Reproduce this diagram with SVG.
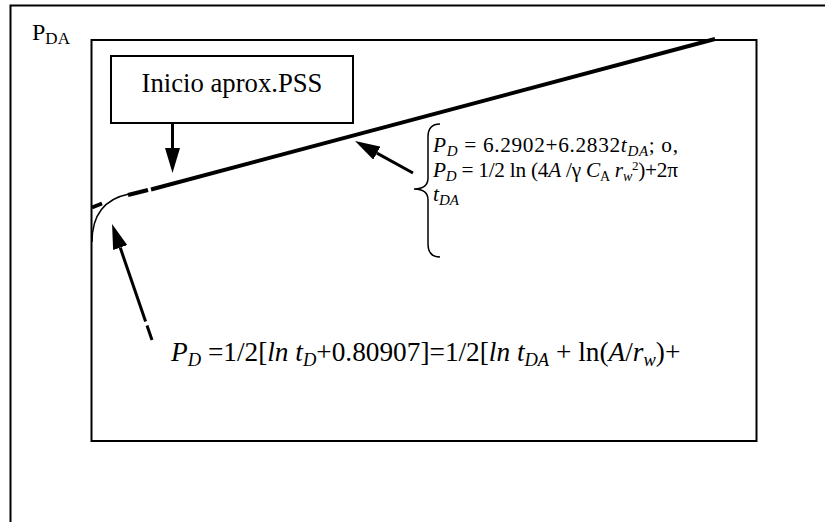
<svg xmlns="http://www.w3.org/2000/svg" width="825" height="522" viewBox="0 0 825 522">
<style>
.frame{fill:none;stroke:#000;stroke-width:2}
.thin{fill:none;stroke:#000;stroke-width:1.5}
.thick{fill:none;stroke:#000;stroke-width:4}
.conn{fill:none;stroke:#000;stroke-width:3}
text{font-family:"Liberation Serif","Times New Roman",serif;fill:#000}
.i{font-style:italic}
</style>
<defs>
<marker id="ah" viewBox="0 0 25 15" markerWidth="25" markerHeight="15" refX="0" refY="7.5" orient="auto" markerUnits="userSpaceOnUse">
<path d="M0,0 L25,7.5 L0,15 z" fill="#000"/>
</marker>
</defs>
<rect width="825" height="522" fill="#fff"/>
<g id="outer-frame">
<path class="frame" d="M10.5,522 L10.5,5.5 L825,5.5"/>
</g>
<g id="axis-label">
<text x="32" y="40" font-size="24">P<tspan font-size="17" dy="4">DA</tspan></text>
</g>
<g id="plot-area">
<rect class="frame" x="91.5" y="40" width="665" height="401"/>
</g>
<g id="curve">
<path class="thin" d="M92,242 C92,216 104,199 129,194"/>
<path class="thick" d="M92,207.5 L102,203.5"/>
<path class="thick" d="M128,195 L148,190"/>
<path class="thick" d="M151,189.5 L715,39"/>
</g>
<g id="box-inicio">
<rect class="frame" x="111" y="56" width="242" height="67"/>
<text x="232" y="92" font-size="26.7" text-anchor="middle">Inicio aprox.PSS</text>
</g>
<g id="brace-formula">
<path class="thin" d="M440,124 Q428,124 428,137 L428,178 Q428,189 414,189 Q428,189 428,200 L428,244 Q428,257 440,257"/>
<text x="433" y="152" font-size="21.3" textLength="245" lengthAdjust="spacing"><tspan class="i">P</tspan><tspan class="i" font-size="15" dy="4">D</tspan><tspan dy="-4"> = 6.2902+6.2832</tspan><tspan class="i">t</tspan><tspan class="i" font-size="15" dy="4">DA</tspan><tspan dy="-4">; o,</tspan></text>
<text x="433" y="177" font-size="21.3" textLength="245" lengthAdjust="spacing"><tspan class="i">P</tspan><tspan class="i" font-size="15" dy="4">D</tspan><tspan dy="-4"> = 1/2 ln (4</tspan><tspan class="i">A</tspan><tspan> /γ </tspan><tspan class="i">C</tspan><tspan font-size="14" dy="4">A</tspan><tspan dy="-4"> </tspan><tspan class="i">r</tspan><tspan class="i" font-size="14" dy="4">w</tspan><tspan font-size="13" dy="-11">2</tspan><tspan dy="7">)+2π</tspan></text>
<text x="433" y="201" font-size="21.3"><tspan class="i">t</tspan><tspan class="i" font-size="15" dy="4">DA</tspan></text>
</g>
<g id="bottom-formula">
<text x="171" y="361" font-size="27.3"><tspan class="i">P</tspan><tspan class="i" font-size="18.5" dy="5">D</tspan><tspan dy="-5"> =1/2[</tspan><tspan class="i">ln t</tspan><tspan class="i" font-size="18.5" dy="5">D</tspan><tspan dy="-5">+0.80907]=1/2[</tspan><tspan class="i">ln t</tspan><tspan class="i" font-size="18.5" dy="5">DA</tspan><tspan dy="-5"> + ln(</tspan><tspan class="i">A</tspan><tspan>/</tspan><tspan class="i">r</tspan><tspan class="i" font-size="18.5" dy="5">w</tspan><tspan dy="-5">)+</tspan></text>
</g>
<g id="connectors">
<line class="conn" x1="172.5" y1="123" x2="172.5" y2="148" marker-end="url(#ah)"/>
<line class="conn" x1="413" y1="173" x2="376.9" y2="153.1" marker-end="url(#ah)"/>
<line class="conn" x1="152" y1="340" x2="147" y2="325.5"/>
<line class="conn" x1="145.6" y1="321.5" x2="120.2" y2="247.6" marker-end="url(#ah)"/>
</g>
</svg>
